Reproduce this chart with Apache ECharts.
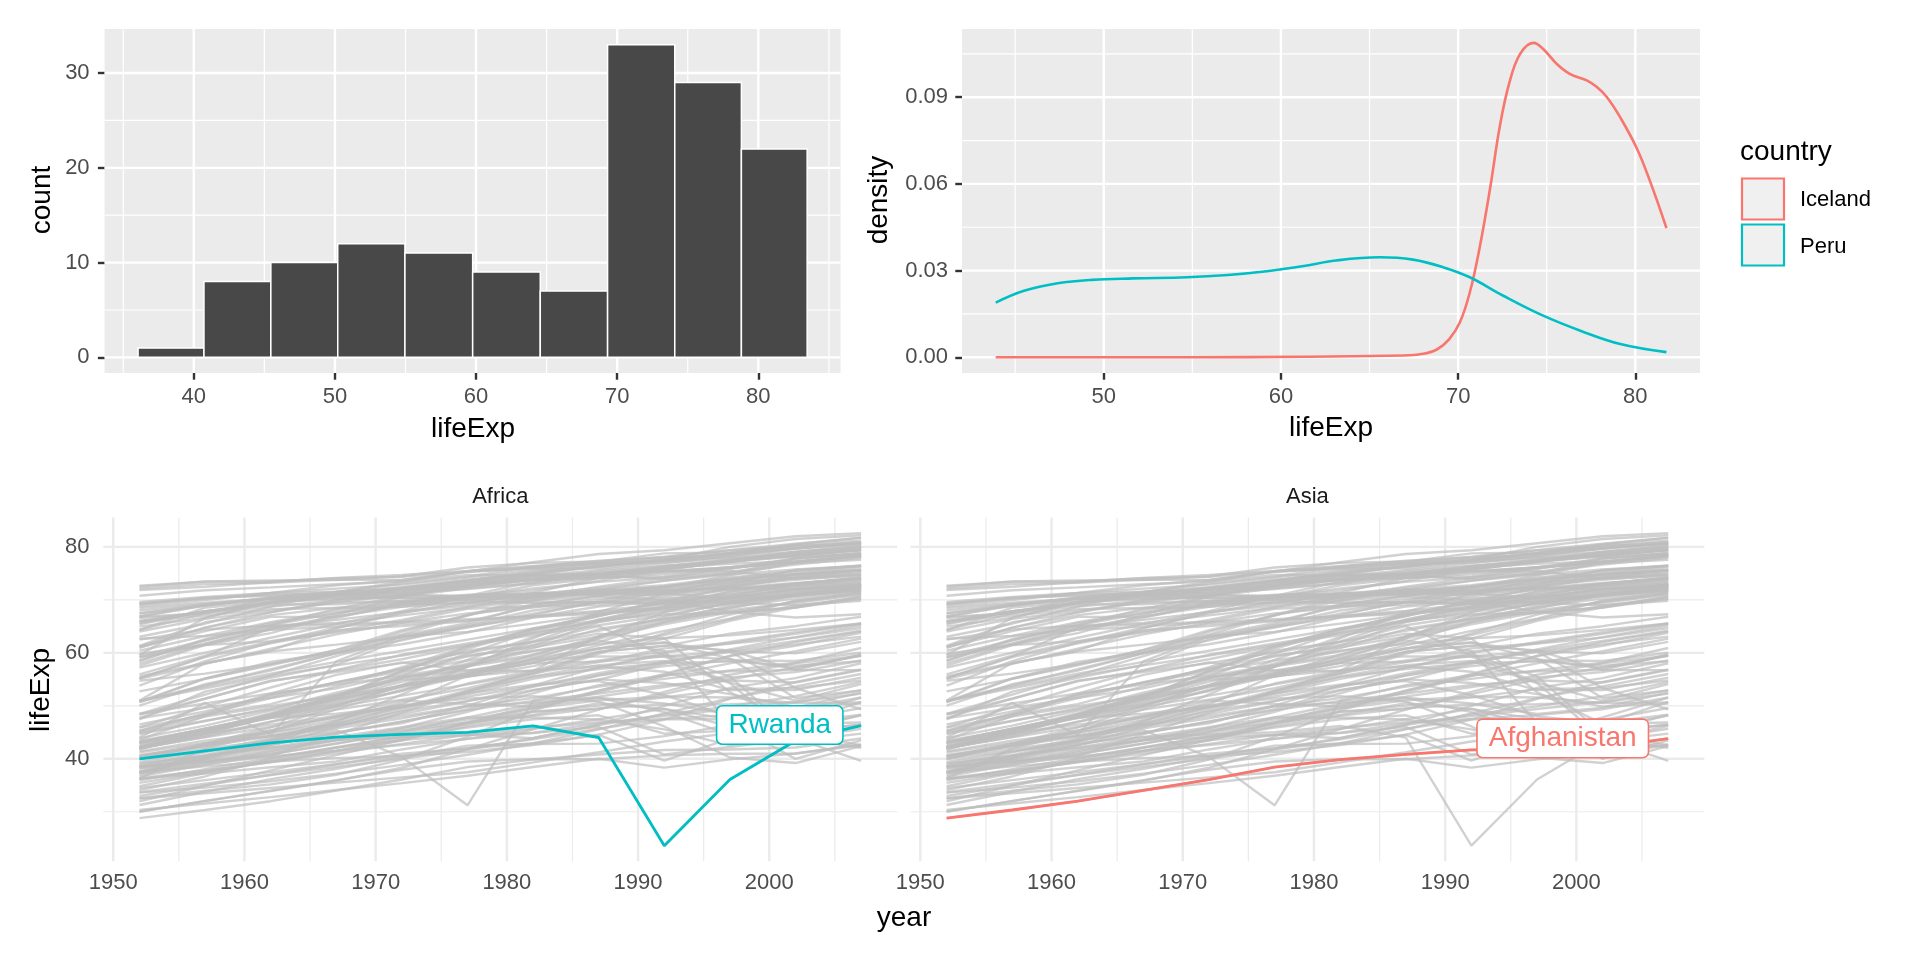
<!DOCTYPE html>
<html><head><meta charset="utf-8">
<script src="https://cdn.jsdelivr.net/npm/echarts@6/dist/echarts.min.js"></script>
<style>html,body{margin:0;padding:0;background:#fff}#c{width:1920px;height:960px}</style>
</head><body><div id="c"></div>
<script>
// ---------- DATA ----------
// Histogram of lifeExp (2007)
const binEdges = [36.05, 40.72, 45.46, 50.2, 54.96, 59.76, 64.55, 69.32, 74.08, 78.8, 83.46];
const binCounts = [1, 8, 10, 12, 11, 9, 7, 33, 29, 22];

// Density curves (lifeExp, density)
const icelandDensity = [[43.9,0],[50,0],[55,0],[61.2,0.0002],[66.9,0.0006],[68.0,0.0012],[68.8,0.0027],[69.5,0.0063],[70.1,0.0121],[70.66,0.0225],[71.2,0.0375],[71.8,0.0583],[72.36,0.0802],[72.9,0.0952],[73.5,0.105],[74.25,0.1088],[74.8,0.1067],[75.57,0.1015],[76.3,0.0981],[77.26,0.0958],[77.83,0.0935],[78.4,0.090],[79.15,0.083],[80.1,0.0721],[80.85,0.0606],[81.757,0.0447]];
const peruDensity = [[43.902,0.0189],[45.5,0.023],[47.4,0.0256],[49.35,0.0268],[51.65,0.0273],[54.7,0.0277],[57.0,0.0285],[59.2,0.0298],[61.2,0.0315],[63.1,0.0335],[65.57,0.0346],[67.45,0.0338],[69.15,0.0312],[70.66,0.0277],[72.55,0.0213],[74.8,0.0144],[76.9,0.0092],[79.15,0.0046],[81.757,0.0018]];

// Life expectancy trajectories
const years = [1952,1957,1962,1967,1972,1977,1982,1987,1992,1997,2002,2007];
const countryNames = ["Afghanistan","Albania","Algeria","Angola","Argentina","Australia","Austria","Bahrain","Bangladesh","Belgium","Benin","Bolivia","Bosnia and Herzegovina","Botswana","Brazil","Bulgaria","Burkina Faso","Burundi","Cambodia","Cameroon","Canada","Central African Republic","Chad","Chile","China","Colombia","Comoros","Congo, Dem. Rep.","Congo, Rep.","Costa Rica","Cote d'Ivoire","Croatia","Cuba","Czech Republic","Denmark","Djibouti","Dominican Republic","Ecuador","Egypt","El Salvador","Equatorial Guinea","Eritrea","Ethiopia","Finland","France","Gabon","Gambia","Germany","Ghana","Greece","Guatemala","Guinea","Guinea-Bissau","Haiti","Honduras","Hong Kong","Hungary","Iceland","India","Indonesia","Iran","Iraq","Ireland","Israel","Italy","Jamaica","Japan","Jordan","Kenya","Korea, Dem. Rep.","Korea, Rep.","Kuwait","Lebanon","Lesotho","Liberia","Libya","Madagascar","Malawi","Malaysia","Mali","Mauritania","Mauritius","Mexico","Mongolia","Montenegro","Morocco","Mozambique","Myanmar","Namibia","Nepal","Netherlands","New Zealand","Nicaragua","Niger","Nigeria","Norway","Oman","Pakistan","Panama","Paraguay","Peru","Philippines","Poland","Portugal","Puerto Rico","Reunion","Romania","Rwanda","Sao Tome and Principe","Saudi Arabia","Senegal","Serbia","Sierra Leone","Singapore","Slovak Republic","Slovenia","Somalia","South Africa","Spain","Sri Lanka","Sudan","Swaziland","Sweden","Switzerland","Syria","Taiwan","Tanzania","Thailand","Togo","Trinidad and Tobago","Tunisia","Turkey","Uganda","United Kingdom","United States","Uruguay","Venezuela","Vietnam","West Bank and Gaza","Yemen, Rep.","Zambia","Zimbabwe"];
const countryLifeExp = [
[28.801,30.332,31.997,34.02,36.088,38.438,39.854,40.822,41.674,41.763,42.129,43.828],
[55.23,59.28,64.82,66.22,67.69,68.93,70.42,72,71.581,72.95,75.651,76.423],
[43.077,45.685,48.303,51.407,54.518,58.014,61.368,65.799,67.744,69.152,70.994,72.301],
[30.015,31.999,34,35.985,37.928,39.483,39.942,39.906,40.647,40.963,41.003,42.731],
[62.485,64.399,65.142,65.634,67.065,68.481,69.942,70.774,71.868,73.275,74.34,75.32],
[69.12,70.33,70.93,71.1,71.93,73.49,74.74,76.32,77.56,78.83,80.37,81.235],
[66.8,67.48,69.54,70.14,70.63,72.17,73.18,74.94,76.04,77.51,78.98,79.829],
[50.939,53.832,56.923,59.923,63.3,65.593,69.052,70.75,72.601,73.925,74.795,75.635],
[37.484,39.348,41.216,43.453,45.252,46.923,50.009,52.819,56.018,59.412,62.013,64.062],
[68,69.24,70.25,70.94,71.44,72.8,73.93,75.35,76.46,77.53,78.32,79.441],
[38.223,40.358,42.618,44.885,47.014,49.19,50.904,52.337,53.919,54.777,54.406,56.728],
[40.414,41.89,43.428,45.032,46.714,50.023,53.859,57.251,59.957,62.05,63.883,65.554],
[53.82,58.45,61.93,64.79,67.45,69.86,70.69,71.14,72.178,73.244,74.09,74.852],
[47.622,49.618,51.52,53.298,56.024,59.319,61.484,63.622,62.745,52.556,46.634,50.728],
[50.917,53.285,55.665,57.632,59.504,61.489,63.336,65.205,67.057,69.388,71.006,72.39],
[59.6,66.61,69.51,70.42,70.9,70.81,71.08,71.34,71.19,70.32,72.14,73.005],
[31.975,34.906,37.814,40.697,43.591,46.137,48.122,49.557,50.26,50.324,50.65,52.295],
[39.031,40.533,42.045,43.548,44.057,45.91,47.471,48.211,44.736,45.326,47.36,49.58],
[39.417,41.366,43.415,45.415,40.317,31.22,50.957,53.914,55.803,56.534,56.752,59.723],
[38.523,40.428,42.643,44.799,47.049,49.355,52.961,54.985,54.314,52.199,49.856,50.43],
[68.75,69.96,71.3,72.13,72.88,74.21,75.76,76.86,77.95,78.61,79.77,80.653],
[35.463,37.464,39.475,41.478,43.457,46.775,48.295,50.485,49.396,46.066,43.308,44.741],
[38.092,39.881,41.716,43.601,45.569,47.383,49.517,51.051,51.724,51.573,50.525,50.651],
[54.745,56.074,57.924,60.523,63.441,67.052,70.565,72.492,74.126,75.816,77.86,78.553],
[44,50.549,44.501,58.381,63.119,63.967,65.525,67.274,68.69,70.426,72.028,72.961],
[50.643,55.118,57.863,59.963,61.623,63.837,66.653,67.768,68.421,70.313,71.682,72.889],
[40.715,42.46,44.467,46.472,48.944,50.939,52.933,54.926,57.939,60.66,62.974,65.152],
[39.143,40.652,42.122,44.056,45.989,47.804,47.784,47.412,45.548,42.587,44.966,46.462],
[42.111,45.053,48.435,52.04,54.907,55.625,56.695,57.47,56.433,52.962,52.97,55.322],
[57.206,60.026,62.842,65.424,67.849,70.75,73.45,74.752,75.713,77.26,78.123,78.782],
[40.477,42.469,44.93,47.35,49.801,52.374,53.983,54.655,52.044,47.991,46.832,48.328],
[61.21,64.77,67.13,68.5,69.61,70.64,70.46,71.52,72.527,73.68,74.876,75.748],
[59.421,62.325,65.246,68.29,70.723,72.649,73.717,74.174,74.414,76.151,77.158,78.273],
[66.87,69.03,69.9,70.38,70.29,70.71,70.96,71.58,72.4,74.01,75.51,76.486],
[70.78,71.81,72.35,72.96,73.47,74.69,74.63,74.8,75.33,76.11,77.18,78.332],
[34.812,37.328,39.693,42.074,44.366,46.519,48.812,50.04,51.604,53.157,53.373,54.791],
[45.928,49.828,53.459,56.751,59.631,61.788,63.727,66.046,68.457,69.957,70.847,72.235],
[48.357,51.356,54.64,56.678,58.796,61.31,64.342,67.231,69.613,72.312,74.173,74.994],
[41.893,44.444,46.992,49.293,51.137,53.319,56.006,59.797,63.674,67.217,69.806,71.338],
[45.262,48.57,52.307,55.855,58.207,56.696,56.604,63.154,66.798,69.535,70.734,71.878],
[34.482,35.983,37.485,38.987,40.516,42.024,43.662,45.664,47.545,48.245,49.348,51.579],
[35.928,38.047,40.158,42.189,44.142,44.535,43.89,46.453,49.991,53.378,55.24,58.04],
[34.078,36.667,40.059,42.115,43.515,44.51,44.916,46.684,48.091,49.402,50.725,52.947],
[66.55,67.49,68.75,69.83,70.87,72.52,74.55,74.83,75.7,77.13,78.37,79.313],
[67.41,68.93,70.51,71.55,72.38,73.83,74.89,76.34,77.46,78.64,79.59,80.657],
[37.003,38.999,40.489,44.598,48.69,52.79,56.564,60.19,61.366,60.461,56.761,56.735],
[30,32.065,33.896,35.857,38.308,41.842,45.58,49.265,52.644,55.861,58.041,59.448],
[67.5,69.1,70.3,70.8,71,72.5,73.8,74.847,76.07,77.34,78.67,79.406],
[43.149,44.779,46.452,48.072,49.875,51.756,53.744,55.729,57.501,58.556,58.453,60.022],
[65.86,67.86,69.51,71,72.34,73.68,75.24,76.67,77.03,77.869,78.256,79.483],
[42.023,44.142,46.954,50.016,53.738,56.029,58.137,60.782,63.373,66.322,68.978,70.259],
[33.609,34.558,35.753,37.197,38.842,40.762,42.891,45.552,48.576,51.455,53.676,56.007],
[32.5,33.489,34.488,35.492,36.486,37.465,39.327,41.245,43.266,44.873,45.504,46.388],
[37.579,40.696,43.59,46.243,48.042,49.923,51.461,53.636,55.089,56.671,58.137,60.916],
[41.912,44.665,48.041,50.924,53.884,57.402,60.909,64.492,66.399,67.659,68.565,70.198],
[60.96,64.75,67.65,70,72,73.6,75.45,76.2,77.601,80,81.495,82.208],
[64.03,66.41,67.96,69.5,69.76,69.95,69.39,69.58,69.17,71.04,72.59,73.338],
[72.49,73.47,73.68,73.73,74.46,76.11,76.99,77.23,78.77,78.95,80.5,81.757],
[37.373,40.249,43.605,47.193,50.651,54.208,56.596,58.553,60.223,61.765,62.879,64.698],
[37.468,39.918,42.518,45.964,49.203,52.702,56.159,60.137,62.681,66.041,68.588,70.65],
[44.869,47.181,49.325,52.469,55.234,57.702,59.62,63.04,65.742,68.042,69.451,70.964],
[45.32,48.437,51.457,54.459,56.95,60.413,62.038,65.044,59.461,58.811,57.046,59.545],
[66.91,68.9,70.29,71.08,71.28,72.03,73.1,74.36,75.467,76.122,77.783,78.885],
[65.39,67.84,69.39,70.75,71.63,73.06,74.45,75.6,76.93,78.269,79.696,80.745],
[65.94,67.81,69.24,71.06,72.19,73.48,74.98,76.42,77.44,78.82,80.24,80.546],
[58.53,62.61,65.61,67.51,69,70.11,71.21,71.77,71.766,72.262,72.047,72.567],
[63.03,65.5,68.73,71.43,73.42,75.38,77.11,78.67,79.36,80.69,82,82.603],
[43.158,45.669,48.126,51.629,56.528,61.134,63.739,65.869,68.015,69.772,71.263,72.535],
[42.27,44.686,47.949,50.654,53.559,56.155,58.766,59.339,59.285,54.407,50.992,54.11],
[50.056,54.081,56.656,59.942,63.983,67.159,69.1,70.647,69.978,67.727,66.662,67.297],
[47.453,52.681,55.292,57.716,62.612,64.766,67.123,69.81,72.244,74.647,77.045,78.623],
[55.565,58.033,60.47,64.624,67.712,69.343,71.309,74.174,75.19,76.156,76.904,77.588],
[55.928,59.489,62.094,63.87,65.421,66.099,66.983,67.926,69.292,70.265,71.028,71.993],
[42.138,45.047,47.747,48.492,49.767,52.208,55.078,57.18,59.685,55.558,44.593,42.592],
[38.48,39.486,40.502,41.536,42.614,43.764,44.852,46.027,40.802,42.221,43.753,45.678],
[42.723,45.289,47.808,50.227,52.773,57.442,62.155,66.234,68.755,71.555,72.737,73.952],
[36.681,38.865,40.848,42.881,44.851,46.881,48.969,49.35,52.214,54.978,57.286,59.443],
[36.256,37.207,38.41,39.487,41.766,43.767,45.642,47.457,49.42,47.495,45.009,48.303],
[48.463,52.102,55.737,59.371,63.01,65.256,68,69.5,70.693,71.938,73.044,74.241],
[33.685,35.307,36.936,38.487,39.977,41.714,43.916,46.364,48.388,49.903,51.818,54.467],
[40.543,42.338,44.248,46.289,48.437,50.852,53.599,56.145,58.333,60.43,62.247,64.164],
[50.986,58.089,60.246,61.557,62.944,64.93,66.711,68.74,69.745,70.736,71.954,72.801],
[50.789,55.19,58.299,60.11,62.361,65.032,67.405,69.498,71.455,73.67,74.902,76.195],
[42.244,45.248,48.251,51.253,53.754,55.491,57.489,60.222,61.271,63.625,65.033,66.803],
[59.164,61.448,63.728,67.178,70.636,73.066,74.101,74.865,75.435,75.445,73.981,74.543],
[42.873,45.423,47.924,50.335,52.862,55.73,59.65,62.677,65.393,67.66,69.615,71.164],
[31.286,33.779,36.161,38.113,40.328,42.495,42.795,42.861,44.284,46.344,44.026,42.082],
[36.319,41.905,45.108,49.379,53.07,56.059,58.056,58.339,59.32,60.328,59.908,62.069],
[41.725,45.226,48.386,51.159,53.867,56.437,58.968,60.835,61.999,58.909,51.479,52.906],
[36.157,37.686,39.393,41.472,43.971,46.748,49.594,52.537,55.727,59.426,61.34,63.785],
[72.13,72.99,73.23,73.82,73.75,75.24,76.05,76.83,77.42,78.03,78.53,79.762],
[69.39,70.26,71.24,71.52,71.89,72.22,73.84,74.32,76.33,77.55,79.11,80.204],
[42.314,45.432,48.632,51.884,55.151,57.47,59.298,62.008,65.843,68.426,70.836,72.899],
[37.444,38.598,39.487,40.118,40.546,41.291,42.598,44.555,47.391,51.313,54.496,56.867],
[36.324,37.802,39.36,41.04,42.821,44.514,45.826,46.886,47.472,47.464,46.608,46.859],
[72.67,73.44,73.47,74.08,74.34,75.37,75.97,75.89,77.32,78.32,79.05,80.196],
[37.578,40.08,43.165,46.988,52.143,57.367,62.728,67.734,71.197,72.499,74.193,75.64],
[43.436,45.557,47.67,49.8,51.929,54.043,56.158,58.245,60.838,61.818,63.61,65.483],
[55.191,59.201,61.817,64.071,66.216,68.681,70.472,71.523,72.462,73.738,74.712,75.537],
[62.649,63.196,64.361,64.951,65.815,66.353,66.874,67.378,68.225,69.4,70.755,71.752],
[43.902,46.263,49.096,51.445,55.448,56.696,58.447,61.406,64.134,66.458,69.906,71.421],
[47.752,51.334,54.757,56.393,58.065,60.06,62.082,64.151,66.458,68.564,70.303,71.688],
[61.31,65.77,67.64,69.61,70.85,70.67,71.32,70.98,70.99,72.75,74.67,75.563],
[59.82,61.51,64.39,66.6,69.26,70.41,72.77,74.06,74.86,75.97,77.29,78.098],
[64.28,68.54,69.62,71.1,72.16,73.44,73.75,74.63,73.911,74.917,77.778,78.746],
[52.724,55.09,57.666,60.542,64.274,67.064,69.885,71.913,73.615,74.772,75.744,76.442],
[61.05,64.1,66.8,66.8,69.21,69.46,69.66,69.53,69.36,69.72,71.322,72.476],
[40,41.5,43,44.1,44.6,45,46.218,44.02,23.599,36.087,43.413,46.242],
[46.471,48.945,51.893,54.425,56.48,58.55,60.351,61.728,62.742,63.306,64.337,65.528],
[39.875,42.868,45.914,49.901,53.886,58.69,63.012,66.295,68.768,70.533,71.626,72.777],
[37.278,39.329,41.454,43.563,45.815,48.879,52.379,55.769,58.196,60.187,61.6,63.062],
[57.996,61.685,64.531,66.914,68.7,70.3,70.162,71.218,71.659,72.232,73.213,74.002],
[30.331,31.57,32.767,34.113,35.4,36.788,38.445,40.006,38.333,39.897,41.012,42.568],
[60.396,63.179,65.798,67.946,69.521,70.795,71.76,73.56,75.788,77.158,78.77,79.972],
[64.36,67.45,70.33,70.98,70.35,70.45,70.8,71.08,71.38,72.71,73.8,74.663],
[65.57,67.85,69.15,69.18,69.82,70.97,71.063,72.25,73.64,75.13,76.66,77.926],
[32.978,34.977,36.981,38.977,40.973,41.974,42.955,44.501,39.658,43.795,45.936,48.159],
[45.009,47.985,49.951,51.927,53.696,55.527,58.161,60.834,61.888,60.236,53.365,49.339],
[64.94,66.66,69.69,71.44,73.06,74.39,76.3,76.9,77.57,78.77,79.78,80.941],
[57.593,61.456,62.192,64.266,65.042,65.949,68.757,69.011,70.379,70.457,70.815,72.396],
[38.635,39.624,40.87,42.858,45.083,47.8,50.338,51.744,53.556,55.373,56.369,58.556],
[41.407,43.424,44.992,46.633,49.552,52.537,55.561,57.678,58.474,54.289,43.869,39.613],
[71.86,72.49,73.37,74.16,74.72,75.44,76.42,77.19,78.16,79.39,80.04,80.884],
[69.62,70.56,71.32,72.77,73.78,75.39,76.21,77.41,78.03,79.37,80.62,81.701],
[45.883,48.284,50.305,53.655,57.296,61.195,64.59,66.974,69.249,71.527,73.053,74.143],
[58.5,62.4,65.2,67.5,69.39,70.59,72.16,73.4,74.26,75.25,76.99,78.4],
[41.215,42.974,44.246,45.757,47.62,49.919,50.608,51.535,50.44,48.466,49.651,52.517],
[50.848,53.63,56.061,58.285,60.405,62.494,64.597,66.084,67.298,67.521,68.564,70.616],
[38.596,41.208,43.922,46.769,49.759,52.887,55.471,56.941,58.061,58.39,57.561,58.42],
[59.1,61.8,64.9,65.4,65.9,68.3,68.832,69.582,69.862,69.465,68.976,69.819],
[44.6,47.1,49.579,52.053,55.602,59.837,64.048,66.894,70.001,71.973,73.042,73.923],
[43.585,48.079,52.098,54.336,57.005,59.507,61.036,63.108,66.146,68.835,70.845,71.777],
[39.978,42.571,45.344,48.051,51.016,50.35,49.849,51.509,48.825,44.578,47.813,51.542],
[69.18,70.42,70.76,71.36,72.01,72.76,74.04,75.007,76.42,77.218,78.471,79.425],
[68.44,69.49,70.21,70.76,71.34,73.38,74.65,75.02,76.09,76.81,77.31,78.242],
[66.071,67.044,68.253,68.468,68.673,69.481,70.805,71.918,72.752,74.223,75.307,76.384],
[55.088,57.907,60.77,63.479,65.712,67.456,68.557,70.19,71.15,72.146,72.766,73.747],
[40.412,42.887,45.363,47.838,50.254,55.764,58.816,62.82,67.662,70.672,73.017,74.249],
[43.16,45.671,48.127,51.631,56.532,60.765,64.406,67.046,69.718,71.096,72.37,73.422],
[32.548,33.97,35.18,36.984,39.848,44.175,49.113,52.922,55.599,58.02,60.308,62.698],
[42.038,44.077,46.023,47.768,50.107,51.386,51.821,50.821,46.1,40.238,39.193,42.384],
[48.451,50.469,52.358,53.995,55.635,57.674,60.363,62.351,60.377,46.809,39.989,43.487]
];
// Facets and highlighted country per facet
const facetNames = ["Africa", "Asia"];
const highlightCountry = ["Rwanda", "Afghanistan"];
const labelYear = [2000.8, 1998.96];
const labelValue = [46.38, 43.85];

// Tick labels
const histXTicks = [40, 50, 60, 70, 80];
const histYTicks = [0, 10, 20, 30];
const densXTicks = [50, 60, 70, 80];
const densYTicks = [0, 0.03, 0.06, 0.09];
const yearTicks = [1950, 1960, 1970, 1980, 1990, 2000];
const lifeTicks = [40, 60, 80];

// ---------- STYLE ----------
const FONT = "'Liberation Sans', Arial, Helvetica, sans-serif";
const RED = '#F8766D', TEAL = '#00BFC4';
const highlightColor = [TEAL, RED];

const chart = echarts.init(document.getElementById('c'), null, {renderer: 'canvas'});

function gridLineSeries(gi, xMajor, xMinor, yMajor, yMinor, xr, yr, color, wMaj, wMin) {
  const specs = [];
  xMinor.forEach(v => specs.push({d: 'v', v, w: wMin}));
  yMinor.forEach(v => specs.push({d: 'h', v, w: wMin}));
  xMajor.forEach(v => specs.push({d: 'v', v, w: wMaj}));
  yMajor.forEach(v => specs.push({d: 'h', v, w: wMaj}));
  return {
    type: 'custom', xAxisIndex: gi, yAxisIndex: gi, silent: true, z: 1,
    data: specs.map(s => s.d === 'v' ? [s.v, yr[0]] : [xr[0], s.v]),
    renderItem: (params, api) => {
      const s = specs[params.dataIndex];
      const cs = params.coordSys;
      const p = api.coord([api.value(0), api.value(1)]);
      const shape = s.d === 'v'
        ? {x1: p[0], y1: cs.y, x2: p[0], y2: cs.y + cs.height}
        : {x1: cs.x, y1: p[1], x2: cs.x + cs.width, y2: p[1]};
      return {type: 'line', shape, style: {stroke: color, lineWidth: s.w}};
    }
  };
}

const histX = [33.68, 85.83], histY = [-1.65, 34.65];
const densX = [42.0, 83.65], densY = [-0.00543, 0.1136];
const yrX = [1949.25, 2009.75], lifeY = [20.65, 85.55];

const tickStyle = {show: true, length: 6.7, lineStyle: {color: '#333333', width: 2.4}};
const labStyle = {fontSize: 22, color: '#4D4D4D', fontFamily: FONT};

function valAxis(gi, range, ticks, opts) {
  opts = opts || {};
  return {
    type: 'value', gridIndex: gi, min: range[0], max: range[1],
    axisLine: {show: false, onZero: false},
    axisTick: opts.noTick ? {show: false} : Object.assign({customValues: ticks}, tickStyle),
    axisLabel: Object.assign({show: !opts.noLabel, customValues: ticks, margin: opts.margin, formatter: opts.fmt || (v => String(v))}, labStyle),
    splitLine: {show: false}, minorSplitLine: {show: false}
  };
}

const series = [];
// grid lines
series.push(gridLineSeries(0, [40,50,60,70,80], [35,45,55,65,75,85], [0,10,20,30], [5,15,25], histX, histY, '#FFFFFF', 2.4, 1.2));
series.push(gridLineSeries(1, [50,60,70,80], [45,55,65,75], [0,0.03,0.06,0.09], [0.015,0.045,0.075,0.105], densX, densY, '#FFFFFF', 2.4, 1.2));
for (let g = 2; g <= 3; g++) {
  series.push(gridLineSeries(g, [1950,1960,1970,1980,1990,2000], [1955,1965,1975,1985,1995,2005], [40,60,80], [30,50,70], yrX, lifeY, '#EBEBEB', 2.4, 1.2));
}

// histogram
series.push({
  type: 'custom', xAxisIndex: 0, yAxisIndex: 0, z: 3,
  encode: {x: [0, 1], y: 2},
  data: binCounts.map((c, i) => [binEdges[i], binEdges[i + 1], c]),
  renderItem: (params, api) => {
    const p0 = api.coord([api.value(0), api.value(2)]);
    const p1 = api.coord([api.value(1), 0]);
    return {type: 'rect', shape: {x: p0[0], y: p0[1], width: p1[0] - p0[0], height: p1[1] - p0[1]},
      style: {fill: '#484848', stroke: '#FFFFFF', lineWidth: 1.5}};
  }
});

// densities
[['Iceland', icelandDensity, RED], ['Peru', peruDensity, TEAL]].forEach(([n, d, c]) => {
  series.push({type: 'line', name: n, xAxisIndex: 1, yAxisIndex: 1, data: d, z: 3,
    smooth: 0.4, showSymbol: false, symbol: 'none',
    lineStyle: {color: c, width: 2.6}, itemStyle: {color: c}});
});

// facet lines
facetNames.forEach((f, k) => {
  const gi = 2 + k;
  countryNames.forEach((n, i) => {
    series.push({type: 'line', name: 'bg-' + f + '-' + n, xAxisIndex: gi, yAxisIndex: gi, z: 2, silent: true,
      data: years.map((y, j) => [y, countryLifeExp[i][j]]),
      showSymbol: false, symbol: 'none',
      lineStyle: {color: 'rgba(190,190,190,0.7)', width: 2.4}});
  });
  const hi = countryNames.indexOf(highlightCountry[k]);
  series.push({type: 'line', name: highlightCountry[k], xAxisIndex: gi, yAxisIndex: gi, z: 4,
    data: years.map((y, j) => [y, countryLifeExp[hi][j]]),
    showSymbol: false, symbol: 'none', lineStyle: {color: highlightColor[k], width: 2.8}});
  series.push({type: 'scatter', xAxisIndex: gi, yAxisIndex: gi, z: 6, silent: true,
    data: [[labelYear[k], labelValue[k]]], symbolSize: 1, itemStyle: {color: 'rgba(0,0,0,0)', opacity: 1},
    label: {show: true, position: 'inside', opacity: 1, formatter: highlightCountry[k], color: highlightColor[k],
      fontSize: 28, fontFamily: FONT, backgroundColor: '#FFFFFF', borderColor: highlightColor[k],
      borderWidth: 1.6, borderRadius: 5, padding: [5, 11, 4, 11]}});
});

function txt(text, x, y, size, color, rot, align) {
  return {type: 'text', x, y, rotation: rot || 0, z: 10, silent: true,
    style: {text, fontSize: size, fontFamily: FONT, fill: color, align: align || 'center', verticalAlign: 'middle',
      textAlign: align || 'center', textVerticalAlign: 'middle'}};
}

const option = {
  animation: false,
  backgroundColor: '#FFFFFF',
  grid: [
    {left: 104.6, top: 29, width: 736, height: 344, show: true, backgroundColor: '#EBEBEB', borderWidth: 0},
    {left: 962, top: 29, width: 738, height: 344, show: true, backgroundColor: '#EBEBEB', borderWidth: 0},
    {left: 103.4, top: 517.5, width: 793.8, height: 343.8, show: false},
    {left: 910.5, top: 517.5, width: 793.8, height: 343.8, show: false}
  ],
  xAxis: [
    valAxis(0, histX, histXTicks, {margin: 13}),
    valAxis(1, densX, densXTicks, {margin: 13}),
    valAxis(2, yrX, yearTicks, {margin: 11, noTick: true}),
    valAxis(3, yrX, yearTicks, {margin: 11, noTick: true})
  ],
  yAxis: [
    valAxis(0, histY, histYTicks, {margin: 15}),
    valAxis(1, densY, densYTicks, {margin: 14, fmt: v => v.toFixed(2)}),
    valAxis(2, lifeY, lifeTicks, {margin: 14, noTick: true}),
    valAxis(3, lifeY, lifeTicks, {margin: 14, noTick: true, noLabel: true})
  ],
  series,
  graphic: [
    txt('count', 42, 200, 28, '#000000', Math.PI / 2),
    txt('lifeExp', 473, 429, 28, '#000000'),
    txt('density', 879, 200, 28, '#000000', Math.PI / 2),
    txt('lifeExp', 1331, 428, 28, '#000000'),
    txt('country', 1740, 152, 28, '#000000', 0, 'left'),
    {type: 'rect', z: 10, silent: true, shape: {x: 1742, y: 178.5, width: 42, height: 41},
      style: {fill: '#F0F0F0', stroke: RED, lineWidth: 2.2}},
    {type: 'rect', z: 10, silent: true, shape: {x: 1742, y: 224.5, width: 42, height: 41},
      style: {fill: '#F0F0F0', stroke: TEAL, lineWidth: 2.2}},
    txt('Iceland', 1800, 200, 22, '#000000', 0, 'left'),
    txt('Peru', 1800, 247, 22, '#000000', 0, 'left'),
    txt(facetNames[0], 500.3, 497, 22, '#1A1A1A'),
    txt(facetNames[1], 1307.4, 497, 22, '#1A1A1A'),
    txt('lifeExp', 41, 690, 28, '#000000', Math.PI / 2),
    txt('year', 904, 918, 28, '#000000')
  ]
};
chart.setOption(option);
</script>
</body></html>
